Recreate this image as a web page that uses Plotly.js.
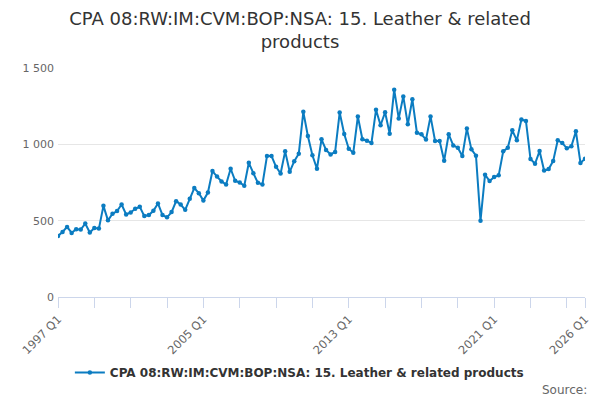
<!DOCTYPE html>
<html>
<head>
<meta charset="utf-8">
<script src="https://cdn.plot.ly/plotly-3.0.1.min.js"></script>
<style>html,body{margin:0;padding:0;background:#fff}#chart{width:600px;height:400px}</style>
</head>
<body>
<div id="chart"></div>
<script>
var startYear = 1997;
var quarterCount = 117;
var seriesName = "CPA 08:RW:IM:CVM:BOP:NSA: 15. Leather & related products";
var values = [
  400, 426, 459, 420, 444, 442, 481, 422, 452, 448,
  597, 502, 545, 563, 606, 541, 554, 578, 591, 530,
  537, 565, 613, 537, 522, 556, 628, 606, 571, 643,
  714, 680, 632, 684, 825, 789, 757, 737, 840, 761,
  750, 728, 879, 811, 748, 737, 923, 923, 853, 809,
  954, 820, 890, 939, 1213, 1055, 928, 840, 1033, 963,
  934, 950, 1208, 1068, 971, 945, 1182, 1033, 1024, 1009,
  1226, 1125, 1210, 1070, 1358, 1170, 1314, 1131, 1295, 1076,
  1066, 1031, 1183, 1022, 1022, 893, 1066, 993, 978, 924,
  1103, 967, 926, 500, 801, 760, 786, 797, 954, 978,
  1092, 1026, 1162, 1153, 904, 873, 956, 828, 838, 891,
  1026, 1009, 974, 987, 1085, 878, 906
];
var labelledTicks = ["1997 Q1", "2005 Q1", "2013 Q1", "2021 Q1", "2026 Q1"];

var categories = [];
for (var i = 0; i < quarterCount; i++) {
  categories.push((startYear + Math.floor(i / 4)) + " Q" + (i % 4 + 1));
}
var tickVals = [], tickText = [];
for (var j = 0; j < quarterCount; j++) {
  var c = categories[j];
  if ((j % 8 === 0) || j === quarterCount - 1) {
    tickVals.push(c);
    tickText.push(labelledTicks.indexOf(c) >= 0 ? c : "");
  }
}

var trace = {
  x: categories,
  y: values,
  type: "scatter",
  mode: "lines+markers",
  name: seriesName,
  line: {color: "#0b7cc1", width: 2},
  marker: {color: "#0b7cc1", size: 4.5}
};

var layout = {
  width: 600, height: 400,
  margin: {l: 58, r: 15, t: 68, b: 103},
  paper_bgcolor: "#fff", plot_bgcolor: "#fff",
  separators: ". ",
  font: {family: "DejaVu Sans", color: "#666"},
  title: {
    text: "CPA 08:RW:IM:CVM:BOP:NSA: 15. Leather & related<br>products",
    x: 0.5, xanchor: "center", y: 0.9375, yanchor: "top",
    font: {family: "DejaVu Sans", size: 18, color: "#333"}
  },
  xaxis: {
    type: "category",
    range: [0, quarterCount - 1],
    tickmode: "array", tickvals: tickVals, ticktext: tickText,
    tickangle: -45,
    ticks: "outside", ticklen: 10, tickcolor: "#ccd6eb", tickwidth: 1,
    showline: true, linecolor: "#ccd6eb", linewidth: 1,
    showgrid: false, zeroline: false,
    tickfont: {size: 11.5, color: "#666"}
  },
  yaxis: {
    range: [0, 1500],
    tickvals: [0, 500, 1000, 1500],
    tickformat: ",",
    showgrid: true, gridcolor: "#e6e6e6", gridwidth: 1,
    zeroline: false, showline: false,
    tickfont: {size: 11, color: "#666"},
    ticklabelstandoff: 3
  },
  showlegend: true,
  legend: {
    orientation: "h", x: 0.458, xanchor: "center", y: -0.33, yanchor: "middle",
    font: {size: 12, color: "#333", weight: "bold"}
  },
  annotations: [{
    text: "Source:", xref: "paper", yref: "paper", x: 1.008, y: -0.405,
    xanchor: "right", yanchor: "middle", showarrow: false,
    font: {size: 12, color: "#666"}
  }]
};

Plotly.newPlot("chart", [trace], layout, {displayModeBar: false, staticPlot: true});
</script>
</body>
</html>
